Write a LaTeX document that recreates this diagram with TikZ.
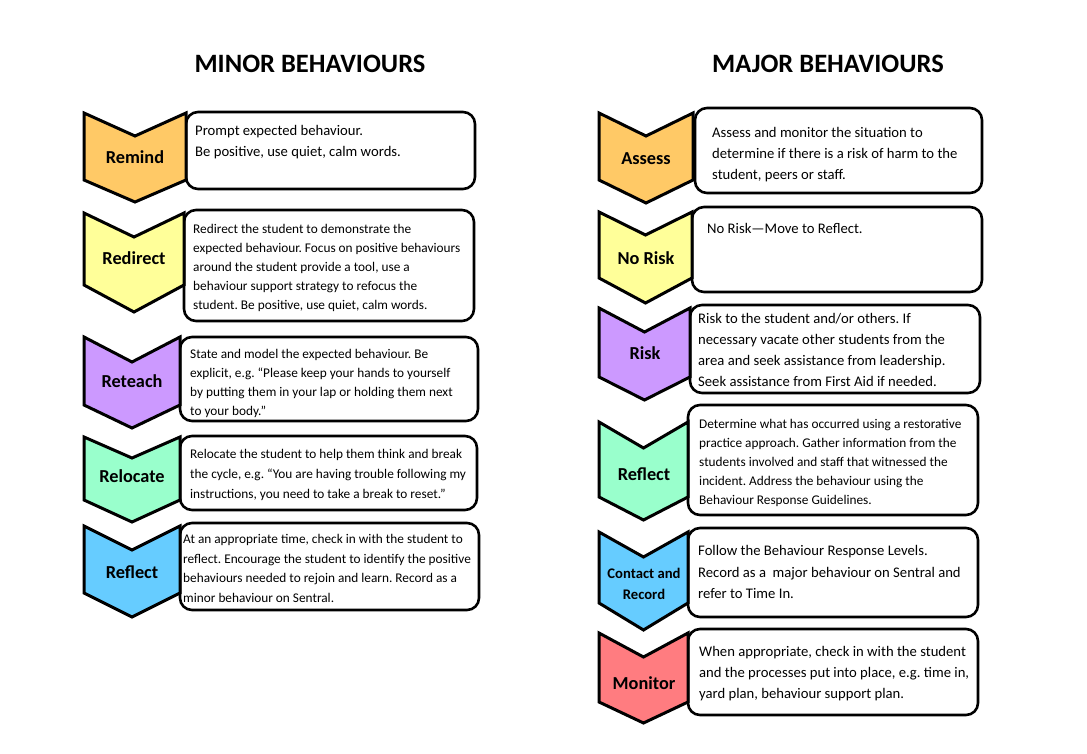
\documentclass[tikz,border=0pt]{standalone}
\usepackage{fontspec}
\setmainfont{Carlito}
\usetikzlibrary{fit}
\frenchspacing
\definecolor{corange}{HTML}{FFC966}
\definecolor{cyellow}{HTML}{FFFF99}
\definecolor{cpurple}{HTML}{CC99FF}
\definecolor{cmint}{HTML}{99FFCC}
\definecolor{cblue}{HTML}{66CCFF}
\definecolor{cred}{HTML}{FF7C80}
\newcommand\mychev[8]{% name x1 x2 top notch sidebottom point colour
  \draw[chevst, fill=#8] (#2,#4) -- ({(#2+#3)/2},#5) -- (#3,#4) -- (#3,#6) -- ({(#2+#3)/2},#7) -- (#2,#6) -- cycle;
  \coordinate (#1) at ({(#2+#3)/2},{(#5+#6)/2});
}
\tikzset{
  chevst/.style={draw=black, line width=3pt, line join=miter},
  boxst/.style={draw=black, line width=2.6pt, rounded corners=12pt, fill=white, inner sep=0pt},
  lbl/.style={font=\fontsize{18.3}{21}\selectfont\bfseries, inner sep=0pt, align=center},
  lbls/.style={font=\fontsize{14.67}{21}\selectfont\bfseries, inner sep=0pt, align=center},
  ttl/.style={font=\fontsize{26.5}{30}\selectfont\bfseries, inner sep=0pt},
  txa/.style={font=\fontsize{13.3}{19}\selectfont, inner sep=0pt, align=left, anchor=north west, yshift=-1.5pt},
  txb/.style={font=\fontsize{14.67}{21}\selectfont, inner sep=0pt, align=left, anchor=north west, yshift=-1.5pt},
}
\begin{document}
\begin{tikzpicture}[x=1pt,y=-1pt]
\useasboundingbox (0,0) rectangle (1087,754);

% titles
\node[ttl] (tminor) at (310,64) {MINOR BEHAVIOURS};
\node[ttl] (tmajor) at (828,64) {MAJOR BEHAVIOURS};

% ---------------- left column ----------------
\node[boxst, fit={(186,112)(475,189)}] (b1) {};
\mychev{c1}{84}{186}{113}{136}{180}{202}{corange}
\node[lbl] (l1) at (135,157) {Remind};
\node[txb] (t1) at (195,123.5) {Prompt expected behaviour.\\Be positive, use quiet, calm words.};

\node[boxst, fit={(184,210)(474,321)}] (b2) {};
\mychev{c2}{84}{184}{213}{237}{285}{312}{cyellow}
\node[lbl] (l2) at (134,258) {Redirect};
\node[txa] (t2) at (193,223) {Redirect the student to demonstrate the\\expected behaviour. Focus on positive behaviours\\around the student provide a tool, use a\\behaviour support strategy to refocus the\\student. Be positive, use quiet, calm words.};

\node[boxst, fit={(180,337)(478,421)}] (b3) {};
\mychev{c3}{84}{180}{337}{362}{405}{428}{cpurple}
\node[lbl] (l3) at (132,381) {Reteach};
\node[txa] (t3) at (190,348) {State and model the expected behaviour. Be\\explicit, e.g. “Please keep your hands to yourself\\by putting them in your lap or holding them next\\to your body.”};

\node[boxst, fit={(180,436)(477,510)}] (b4) {};
\mychev{c4}{84}{180}{437}{458}{500}{522}{cmint}
\node[lbl] (l4) at (132,476) {Relocate};
\node[txa, font=\fontsize{13.3}{20}\selectfont] (t4) at (190,448) {Relocate the student to help them think and break\\the cycle, e.g. “You are having trouble following my\\instructions, you need to take a break to reset.”};

\node[boxst, fit={(180,523)(479,610)}] (b5) {};
\mychev{c5}{84}{180}{526}{550}{593}{617}{cblue}
\node[lbl] (l5) at (132,572) {Reflect};
\node[txa, font=\fontsize{13.3}{19.5}\selectfont] (t5) at (183,533) {At an appropriate time, check in with the student to\\reflect. Encourage the student to identify the positive\\behaviours needed to rejoin and learn. Record as a\\minor behaviour on Sentral.};

% ---------------- right column ----------------
\node[boxst, fit={(695,108)(982,193)}] (b6) {};
\mychev{c6}{599}{693}{113}{136}{180}{203}{corange}
\node[lbl] (l6) at (646,159) {Assess};
\node[txb, font=\fontsize{14.67}{20.7}\selectfont] (t6) at (712,126) {Assess and monitor the situation to\\determine if there is a risk of harm to the\\student, peers or staff.};

\node[boxst, fit={(692,207)(982,292)}] (b7) {};
\mychev{c7}{599}{692}{212}{235}{278}{303}{cyellow}
\node[lbl] (l7) at (646,258) {No Risk};
\node[txb] (t7) at (707,222) {No Risk—Move to Reflect.};

\node[boxst, fit={(690,305)(980,393)}] (b8) {};
\mychev{c8}{599}{690}{308}{332}{377}{400}{cpurple}
\node[lbl] (l8) at (645,353) {Risk};
\node[txb] (t8) at (698,312) {Risk to the student and/or others. If\\necessary vacate other students from the\\area and seek assistance from leadership.\\Seek assistance from First Aid if needed.};

\node[boxst, fit={(688,405)(978,515)}] (b9) {};
\mychev{c9}{599}{688}{422}{448}{497}{520}{cmint}
\node[lbl] (l9) at (644,474) {Reflect};
\node[txa] (t9) at (699,418) {Determine what has occurred using a restorative\\practice approach. Gather information from the\\students involved and staff that witnessed the\\incident. Address the behaviour using the\\Behaviour Response Guidelines.};

\node[boxst, fit={(688,528)(978,617)}] (b10) {};
\mychev{c10}{599}{688}{532}{557}{603}{630}{cblue}
\node[lbls] (l10) at (644,583.5) {Contact and\\Record};
\node[txb, font=\fontsize{14.67}{21.5}\selectfont] (t10) at (698,544) {Follow the Behaviour Response Levels.\\Record as a\ \ major behaviour on Sentral and\\refer to Time In.};

\node[boxst, fit={(688,629)(978,715)}] (b11) {};
\mychev{c11}{599}{688}{633}{657}{702}{723}{cred}
\node[lbl] (l11) at (644,683) {Monitor};
\node[txb] (t11) at (699,645) {When appropriate, check in with the student\\and the processes put into place, e.g. time in,\\yard plan, behaviour support plan.};
\end{tikzpicture}
\end{document}
